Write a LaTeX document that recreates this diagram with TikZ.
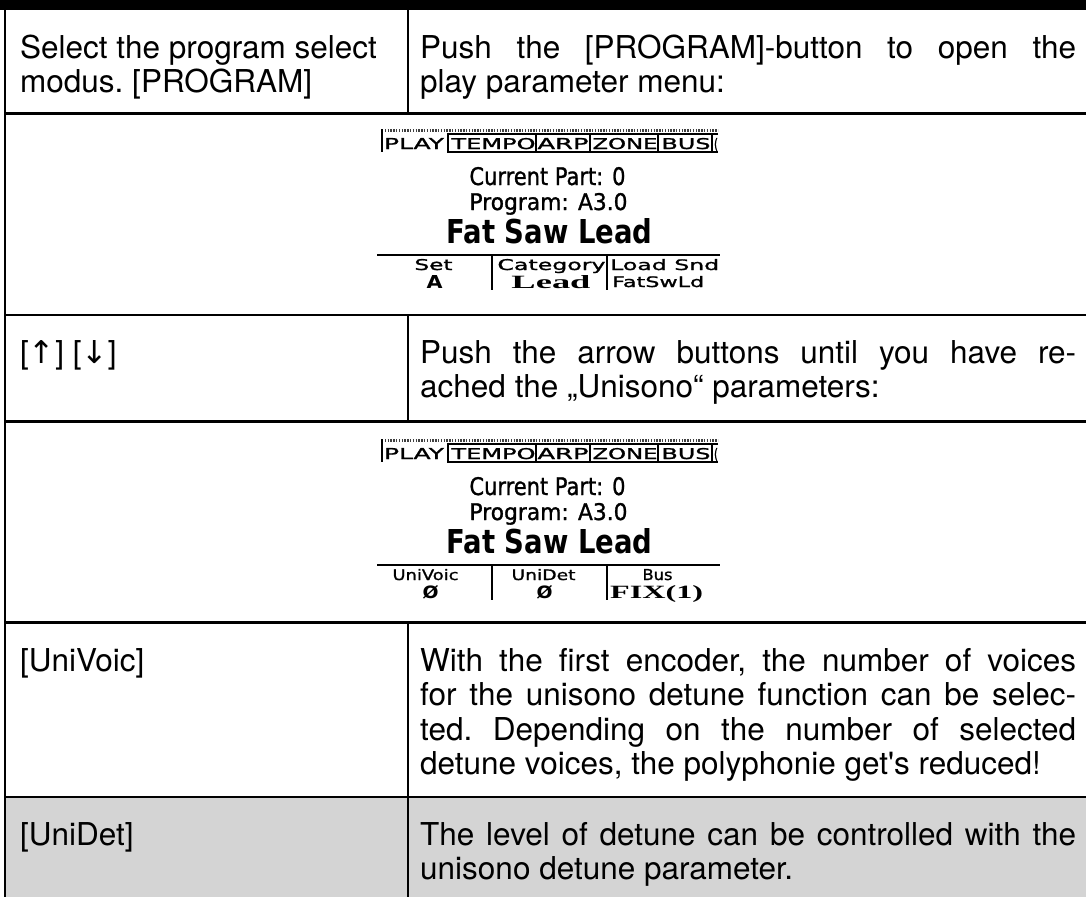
\documentclass[tikz,border=0pt]{standalone}
\usepackage{fontspec}
\usepackage{graphicx}
\setmainfont{TeX Gyre Heros}
\newfontfamily\arrowfont{DejaVu Sans}
\newfontfamily\lcdsans{DejaVu Sans}[FakeBold=1.2]
\newfontfamily\lcdbold{DejaVu Sans Bold}
\newfontfamily\lcdserif{Liberation Serif Bold}
\definecolor{rowgray}{HTML}{D4D4D4}
\newcommand{\pxt}[3]{\resizebox{#1pt}{#2pt}{#3}}

\tikzset{
  gridline/.style={line width=2.8pt, black},
  cell/.style={anchor=base west, inner sep=0pt, font=\fontsize{31.5}{34.5}\selectfont\frenchspacing},
  lcdtxt/.style={anchor=base, inner sep=0pt},
  lcdtxtw/.style={anchor=base west, inner sep=0pt},
  tabbox/.style={draw, line width=1.4pt},
  lcdrule/.style={line width=2.4pt},
  lcddiv/.style={line width=1.6pt},
  lcdhead/.pic={
    \draw[black!75, line width=3.2pt, dash pattern=on 1.4pt off 1.4pt] (382,130.5) -- (718,130.5);
    \draw[line width=1.4pt] (382,129) -- (382,152);
    \draw[tabbox] (448,134) rectangle (536,152);
    \draw[tabbox] (536,134) rectangle (590,152);
    \draw[tabbox] (590,134) rectangle (658,152);
    \draw[tabbox] (658,134) rectangle (712,152);
    \draw[line width=1.4pt] (718,134) -- (712,134) -- (712,152) -- (718,152);
    \node[lcdtxt] (-play) at (414,149) {\pxt{60}{11}{\lcdsans PLAY}};
    \node[lcdtxt] (-tempo) at (493.5,149) {\pxt{84}{11}{\lcdsans TEMPO}};
    \node[lcdtxt] (-arp) at (563,149) {\pxt{51}{11}{\lcdsans ARP}};
    \node[lcdtxt] (-zone) at (625,149) {\pxt{65}{11}{\lcdsans ZONE}};
    \node[lcdtxt] (-bus) at (686,149) {\pxt{49}{11}{\lcdsans BUS}};
    \node[lcdtxt] (-more) at (716,149) {\pxt{4}{11}{\lcdsans (}};
    \node[lcdtxt] (-cur) at (547.5,185) {\pxt{156}{18}{\lcdsans Current Part: 0}};
    \node[lcdtxt] (-prog) at (548.5,210) {\pxt{158}{17}{\lcdsans Program: A3.0}};
    \node[lcdtxt] (-name) at (549.5,243) {\pxt{206}{25}{\lcdbold Fat Saw Lead}};
    \draw[lcdrule] (377,255) -- (720,255);
    \draw[lcddiv] (492,255) -- (492,290);
    \draw[lcddiv] (607,255) -- (607,290);
  }
}

\begin{document}
\begin{tikzpicture}[x=1pt,y=-1pt]
\useasboundingbox (0,0) rectangle (1086,897);

% backgrounds and frame
\fill[rowgray] (5,797) rectangle (1086,897);
\fill[black] (0,0) rectangle (1086,10);
\draw[gridline] (5,9) -- (5,897);
\draw[gridline] (5,113.5) -- (1086,113.5);
\draw[gridline] (5,315) -- (1086,315);
\draw[gridline] (5,421.5) -- (1086,421.5);
\draw[gridline] (5,622.5) -- (1086,622.5);
\draw[gridline] (5,797) -- (1086,797);
\draw[gridline] (408,10) -- (408,113.5);
\draw[gridline] (408,315) -- (408,421.5);
\draw[gridline] (408,622.5) -- (408,897);

% row 1
\node[cell] (r1l) at (20,58) {\parbox[t]{380pt}{Select the program select\\modus. [PROGRAM]}};
\node[cell] (r1r) at (420,58) {\parbox[t]{656pt}{\makebox[656pt][s]{Push the [PROGRAM]-button to open the}\\play parameter menu:}};

% LCD 1
\pic (L1) at (0,0) {lcdhead};
\node[lcdtxt] (L1set) at (433.5,270) {\pxt{38}{11}{\lcdsans Set}};
\node[lcdtxt] (L1setv) at (434.5,288) {\pxt{16}{13}{\lcdbold A}};
\node[lcdtxt] (L1cat) at (551.5,270) {\pxt{108}{11}{\lcdsans Category}};
\node[lcdtxt] (L1catv) at (551,288) {\pxt{79}{13}{\lcdserif Lead}};
\node[lcdtxtw] (L1load) at (610,270) {\pxt{109}{11}{\lcdsans Load Snd}};
\node[lcdtxtw] (L1loadv) at (612,287) {\pxt{92}{11}{\lcdsans FatSwLd}};

% row 3
\node[cell] (r3l) at (20,363) {[{\arrowfont\resizebox{!}{23pt}{↑}}] [{\arrowfont\resizebox{!}{23pt}{↓}}]};
\node[cell] (r3r) at (420,363) {\parbox[t]{656pt}{\makebox[656pt][s]{Push the arrow buttons until you have re-}\\ached the „Unisono“ parameters:}};

% LCD 2
\pic (L2) at (0,310) {lcdhead};
\node[lcdtxt] (L2uv) at (425.5,580) {\pxt{66}{11}{\lcdsans UniVoic}};
\node[lcdtxt] (L2uvv) at (430.5,598) {\pxt{16}{13}{\lcdbold Ø}};
\node[lcdtxt] (L2ud) at (543.5,580) {\pxt{64}{11}{\lcdsans UniDet}};
\node[lcdtxt] (L2udv) at (544.5,598) {\pxt{16}{13}{\lcdbold Ø}};
\node[lcdtxt] (L2bus) at (657.5,580) {\pxt{30}{11}{\lcdsans Bus}};
\node[lcdtxtw] (L2busv) at (610,598) {\pxt{93}{13}{\lcdserif FIX(1)}};

% row 5
\node[cell] (r5l) at (20,671) {[UniVoic]};
\node[cell] (r5r) at (420,671) {\parbox[t]{656pt}{%
\makebox[656pt][s]{With the first encoder, the number of voices}\\
\makebox[656pt][s]{for the unisono detune function can be selec-}\\
\makebox[656pt][s]{ted. Depending on the number of selected}\\
detune voices, the polyphonie get\textquotesingle s reduced!}};

% row 6
\node[cell] (r6l) at (20,845) {[UniDet]};
\node[cell] (r6r) at (420,845) {\parbox[t]{656pt}{%
\makebox[656pt][s]{The level of detune can be controlled with the}\\
unisono detune parameter.}};
\end{tikzpicture}
\end{document}
